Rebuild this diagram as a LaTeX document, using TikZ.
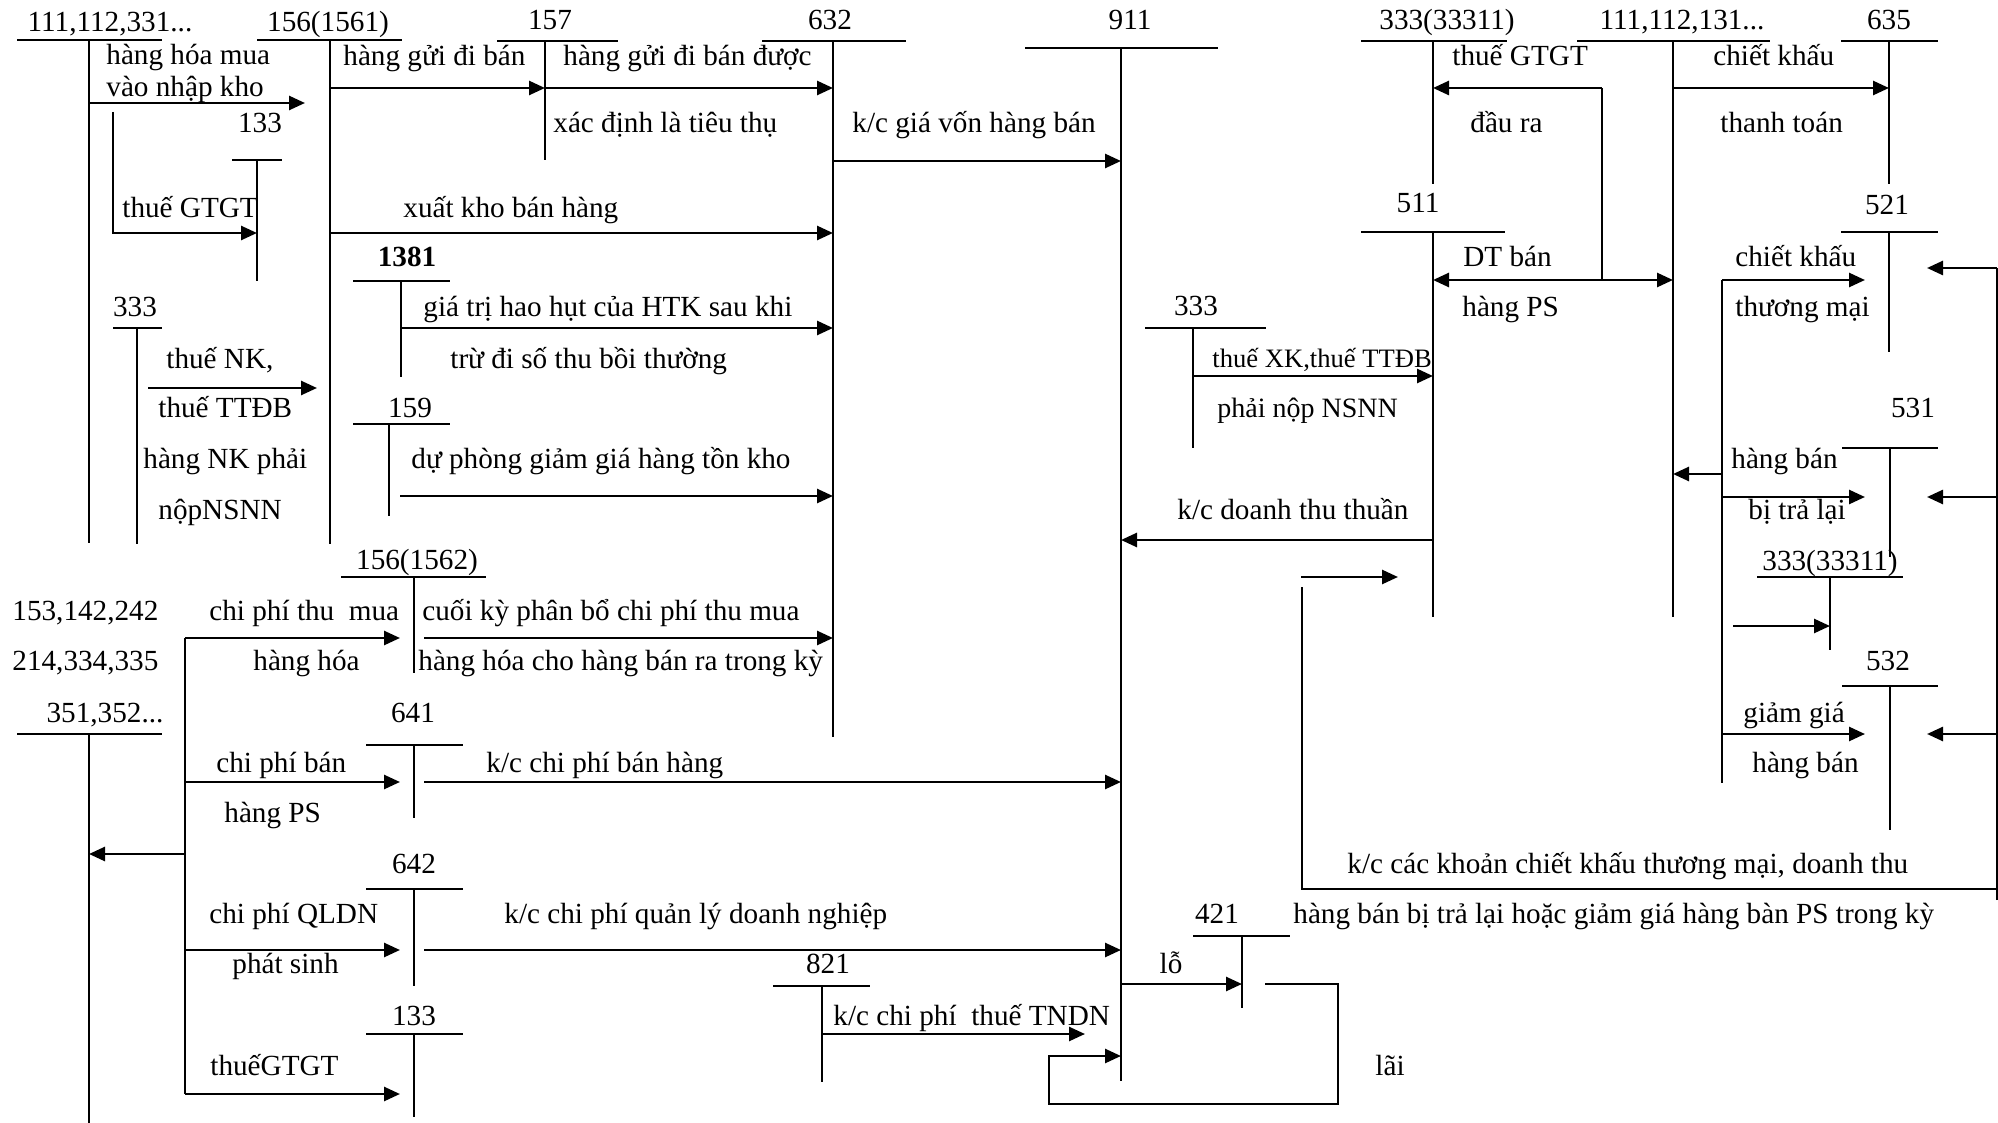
\documentclass[tikz,border=0pt]{standalone}
\usepackage{fontspec}
\setmainfont{Liberation Serif}
\usetikzlibrary{arrows.meta}
\newcommand{\fs}{\fontsize{14.6}{17}\selectfont}
\newcommand{\tacc}[9]{%
  \draw[tline] (#3,#5) -- (#4,#5);
  \draw[tline] (#6,#5) -- (#6,#7);
  \node[lbl] (#1) at (#8,#9) {#2};}
\begin{document}
\begin{tikzpicture}[x=0.5pt,y=-0.5pt,
  tline/.style={line width=1pt},
  arr/.style={line width=1.3pt,-{Triangle[length=8pt,width=7pt]}},
  darr/.style={line width=1.3pt,{Triangle[length=8pt,width=7pt]}-{Triangle[length=8pt,width=7pt]}},
  pl/.style={line width=1.3pt},
  txt/.style={inner sep=0pt,anchor=base west,font=\fs},
  lbl/.style={inner sep=0pt,anchor=base,font=\fs}]
\useasboundingbox (0,0) rectangle (1998,1123);
% T accounts
\tacc{a111}{111,112,331...}{17}{162}{40}{89}{543}{110}{32}
\tacc{a1561}{156(1561)}{257}{402}{40}{330}{544}{328}{32}
\tacc{a157}{157}{497}{618}{41}{545}{160}{550}{30}
\tacc{a632}{632}{762}{906}{41}{833}{737}{830}{30}
\tacc{a911}{911}{1025}{1218}{48}{1121}{1081}{1130}{30}
\tacc{a33311}{333(33311)}{1361}{1507}{41}{1433}{184}{1447}{30}
\tacc{a111r}{111,112,131...}{1577}{1770}{41}{1673}{617}{1682}{30}
\tacc{a635}{635}{1841}{1938}{41}{1889}{184}{1889}{30}
\tacc{a133a}{133}{232}{282}{160}{257}{281}{260}{133}
\tacc{a1381}{\bfseries 1381}{353}{450}{281}{401}{377}{407}{267}
\tacc{a333a}{333}{113}{162}{328}{137}{544}{135}{317}
\tacc{a511}{511}{1361}{1505}{232}{1433}{617}{1418}{213}
\tacc{a521}{521}{1841}{1938}{232}{1889}{352}{1887}{215}
\tacc{a333b}{333}{1145}{1266}{328}{1193}{448}{1196}{316}
\tacc{a159}{159}{353}{450}{424}{389}{516}{410}{417}
\tacc{a531}{531}{1842}{1938}{448}{1890}{557}{1913}{417}
\tacc{a1562}{156(1562)}{341}{486}{577}{414}{673}{417}{569}
\tacc{a33311b}{333(33311)}{1757}{1903}{577}{1830}{650}{1830}{570}
\tacc{a351}{351,352...}{17}{162}{734}{89}{1123}{105}{722}
\tacc{a641}{641}{366}{463}{745}{414}{818}{413}{722}
\tacc{a532}{532}{1842}{1938}{686}{1890}{830}{1888}{670}
\tacc{a642}{642}{366}{463}{889}{414}{986}{414}{873}
\tacc{a821}{821}{773}{870}{986}{822}{1082}{828}{973}
\tacc{a421}{421}{1193}{1290}{936}{1242}{1008}{1217}{923}
\tacc{a133b}{133}{366}{463}{1034}{414}{1117}{414}{1025}
\node[txt] (l153) at (12,620) {153,142,242};
\node[txt] (l214) at (12,670) {214,334,335};
% arrows left part
\draw[arr] (89,103) -- (305,103);
\draw[arr] (113,112) -- (113,233) -- (257,233);
\draw[arr] (330,88) -- (545,88);
\draw[arr] (545,88) -- (833,88);
\draw[arr] (833,161) -- (1121,161);
\draw[arr] (330,233) -- (833,233);
\draw[arr] (401,328) -- (833,328);
\draw[arr] (148,388) -- (317,388);
\draw[arr] (400,496) -- (833,496);
\draw[pl] (185,638) -- (185,1094);
\draw[arr] (185,638) -- (400,638);
\draw[arr] (424,638) -- (833,638);
\draw[arr] (185,782) -- (400,782);
\draw[arr] (424,782) -- (1121,782);
\draw[arr] (185,854) -- (89,854);
\draw[arr] (185,950) -- (400,950);
\draw[arr] (424,950) -- (1121,950);
\draw[arr] (185,1094) -- (400,1094);
\draw[arr] (822,1034) -- (1085,1034);
\draw[arr] (1121,984) -- (1242,984);
\draw[arr] (1265,984) -- (1338,984) -- (1338,1104) -- (1049,1104) -- (1049,1056) -- (1121,1056);
% right part
\draw[arr] (1193,376) -- (1433,376);
\draw[arr] (1433,540) -- (1121,540);
\draw[arr] (1301,577) -- (1398,577);
\draw[pl] (1302,587) -- (1302,889) -- (1997,889);
\draw[pl] (1997,900) -- (1997,268);
\draw[arr] (1997,268) -- (1927,268);
\draw[arr] (1997,497) -- (1927,497);
\draw[arr] (1997,734) -- (1927,734);
\draw[pl] (1602,280) -- (1602,88);
\draw[arr] (1602,88) -- (1433,88);
\draw[darr] (1433,280) -- (1673,280);
\draw[arr] (1673,88) -- (1889,88);
\draw[pl] (1722,280) -- (1722,783);
\draw[arr] (1722,280) -- (1865,280);
\draw[arr] (1722,474) -- (1673,474);
\draw[arr] (1722,497) -- (1865,497);
\draw[arr] (1733,626) -- (1830,626);
\draw[arr] (1722,734) -- (1865,734);
% texts
\node[txt] (t1) at (106,65) {hàng hóa mua};
\node[txt] (t2) at (106,97) {vào nhập kho};
\node[txt] (t3) at (122,218) {thuế GTGT};
\node[txt] (t4) at (343,66) {hàng gửi đi bán};
\node[txt] (t5) at (563,66) {hàng gửi đi bán được};
\node[txt] (t6) at (553,133) {xác định là tiêu thụ};
\node[txt] (t7) at (852,133) {k/c giá vốn hàng bán};
\node[txt] (t8) at (403,218) {xuất kho bán hàng};
\node[txt] (t9) at (423,317) {giá trị hao hụt của HTK sau khi};
\node[txt] (t10) at (450,368) {trừ đi số thu bồi thường};
\node[txt] (t11) at (166,368) {thuế NK,};
\node[txt] (t12) at (158,417) {thuế TTĐB};
\node[txt] (t13) at (143,468) {hàng NK phải};
\node[txt] (t14) at (158,519) {nộpNSNN};
\node[txt] (t15) at (411,468) {dự phòng giảm giá hàng tồn kho};
\node[txt] (t16) at (209,620) {chi phí thu\ \ mua};
\node[txt] (t17) at (253,670) {hàng hóa};
\node[txt] (t18) at (422,620) {cuối kỳ phân bổ chi phí thu mua};
\node[txt] (t19) at (418,670) {hàng hóa cho hàng bán ra trong kỳ};
\node[txt] (t20) at (216,772) {chi phí bán};
\node[txt] (t21) at (224,822) {hàng PS};
\node[txt] (t22) at (486,772) {k/c chi phí bán hàng};
\node[txt] (t23) at (209,923) {chi phí QLDN};
\node[txt] (t24) at (232,973) {phát sinh};
\node[txt] (t25) at (504,923) {k/c chi phí quản lý doanh nghiệp};
\node[txt] (t26) at (210,1075) {thuếGTGT};
\node[txt] (t27) at (833,1025) {k/c chi phí\ \ thuế TNDN};
\node[lbl] (t28) at (1171,973) {lỗ};
\node[lbl] (t29) at (1390,1075) {lãi};
\node[txt,font=\fontsize{13.3}{16}\selectfont] (t30) at (1212,367) {thuế XK,thuế TTĐB};
\node[txt,font=\fontsize{14}{16}\selectfont] (t31) at (1217,417) {phải nộp NSNN};
\node[txt] (t32) at (1177,519) {k/c doanh thu thuần};
\node[txt] (t33) at (1452,66) {thuế GTGT};
\node[txt] (t34) at (1470,133) {đầu ra};
\node[txt] (t35) at (1463,267) {DT bán};
\node[txt] (t36) at (1462,317) {hàng PS};
\node[txt] (t37) at (1713,66) {chiết khấu};
\node[txt] (t38) at (1720,133) {thanh toán};
\node[txt] (t39) at (1735,267) {chiết khấu};
\node[txt] (t40) at (1735,317) {thương mại};
\node[txt] (t41) at (1731,468) {hàng bán};
\node[txt] (t42) at (1748,519) {bị trả lại};
\node[txt] (t43) at (1743,722) {giảm giá};
\node[txt] (t44) at (1752,772) {hàng bán};
\node[txt] (t45) at (1347,873) {k/c các khoản chiết khấu thương mại, doanh thu};
\node[txt] (t46) at (1293,923) {hàng bán bị trả lại hoặc giảm giá hàng bàn PS trong kỳ};
\end{tikzpicture}
\end{document}
